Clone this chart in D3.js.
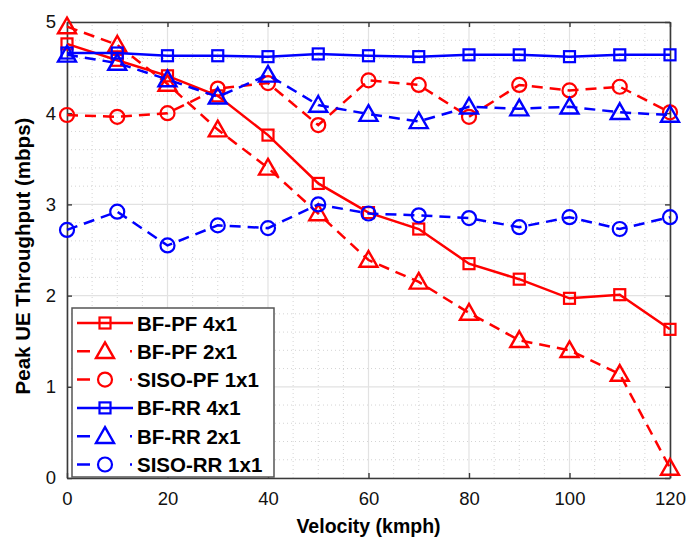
<!DOCTYPE html>
<html>
<head>
<meta charset="utf-8">
<script src="https://cdn.jsdelivr.net/npm/d3@7"></script>
<style>
body { margin: 0; background: #fff; }
text { font-family: "Liberation Sans", Arial, sans-serif; }
</style>
</head>
<body>
<div id="chart"></div>
<script>
// velocity values on the x axis
var velocity = [0, 10, 20, 30, 40, 50, 60, 70, 80, 90, 100, 110, 120];
// throughput (mbps)
var bfPf4 = [4.76, 4.58, 4.41, 4.19, 3.76, 3.23, 2.91, 2.73, 2.35, 2.18, 1.97, 2.01, 1.63];
var bfPf2 = [4.95, 4.75, 4.32, 3.82, 3.40, 2.90, 2.39, 2.15, 1.81, 1.51, 1.40, 1.14, 0.11];
var sisoPf1 = [3.98, 3.96, 4.00, 4.27, 4.33, 3.87, 4.36, 4.31, 3.96, 4.31, 4.25, 4.29, 4.01];
var bfRr4 = [4.66, 4.66, 4.63, 4.63, 4.62, 4.65, 4.63, 4.62, 4.64, 4.64, 4.62, 4.64, 4.64];
var bfRr2 = [4.64, 4.55, 4.37, 4.18, 4.42, 4.09, 3.99, 3.91, 4.07, 4.05, 4.07, 4.01, 3.98];
var sisoRr1 = [2.72, 2.92, 2.55, 2.77, 2.74, 3.00, 2.90, 2.88, 2.85, 2.75, 2.86, 2.73, 2.86];

var seriesNames = ["BF-PF 4x1", "BF-PF 2x1", "SISO-PF 1x1", "BF-RR 4x1", "BF-RR 2x1", "SISO-RR 1x1"];
var seriesValues = [bfPf4, bfPf2, sisoPf1, bfRr4, bfRr2, sisoRr1];
var seriesColors = ["#ff0000", "#ff0000", "#ff0000", "#0000ff", "#0000ff", "#0000ff"];
var seriesMarkers = ["square", "triangle", "circle", "square", "triangle", "circle"];
var seriesDashed = [false, true, true, false, true, true];

var xTicks = [0, 20, 40, 60, 80, 100, 120];
var yTicks = [0, 1, 2, 3, 4, 5];

var width = 688, height = 540;
var margin = {left: 67, right: 18, top: 22, bottom: 62};

var svg = d3.select("#chart").append("svg")
	.attr("width", width)
	.attr("height", height);

var x = d3.scaleLinear().domain([0, 120]).range([margin.left, width - margin.right]);
var y = d3.scaleLinear().domain([0, 5]).range([height - margin.bottom, margin.top]);

// minor grid (dotted)
var minorX = d3.range(5, 120, 5).filter(function(d) { return d % 20 !== 0; });
var minorY = d3.range(0.2, 5, 0.2).filter(function(d) { return Math.abs(d - Math.round(d)) > 0.01; });
svg.append("g").selectAll("line").data(minorX).enter().append("line")
	.attr("x1", function(d) { return x(d); }).attr("x2", function(d) { return x(d); })
	.attr("y1", y(0)).attr("y2", y(5))
	.attr("stroke", "#d4d4d4").attr("stroke-width", 1).attr("stroke-dasharray", "1,3");
svg.append("g").selectAll("line").data(minorY).enter().append("line")
	.attr("x1", x(0)).attr("x2", x(120))
	.attr("y1", function(d) { return y(d); }).attr("y2", function(d) { return y(d); })
	.attr("stroke", "#d4d4d4").attr("stroke-width", 1).attr("stroke-dasharray", "1,3");

// major grid
svg.append("g").selectAll("line").data(xTicks).enter().append("line")
	.attr("x1", function(d) { return x(d); }).attr("x2", function(d) { return x(d); })
	.attr("y1", y(0)).attr("y2", y(5))
	.attr("stroke", "#e2e2e2").attr("stroke-width", 1.2);
svg.append("g").selectAll("line").data(yTicks).enter().append("line")
	.attr("x1", x(0)).attr("x2", x(120))
	.attr("y1", function(d) { return y(d); }).attr("y2", function(d) { return y(d); })
	.attr("stroke", "#e2e2e2").attr("stroke-width", 1.2);

// axes with inward ticks
var xAxis = svg.append("g").attr("transform", "translate(0," + y(0) + ")")
	.call(d3.axisBottom(x).tickValues(xTicks).tickSizeInner(-5).tickSizeOuter(0).tickPadding(14).tickFormat(d3.format("d")));
var yAxis = svg.append("g").attr("transform", "translate(" + x(0) + ",0)")
	.call(d3.axisLeft(y).tickValues(yTicks).tickSizeInner(-5).tickSizeOuter(0).tickPadding(11).tickFormat(d3.format("d")));
var xTop = svg.append("g").attr("transform", "translate(0," + y(5) + ")")
	.call(d3.axisTop(x).tickValues(xTicks).tickSizeInner(-5).tickSizeOuter(0).tickFormat(""));
var yRight = svg.append("g").attr("transform", "translate(" + x(120) + ",0)")
	.call(d3.axisRight(y).tickValues(yTicks).tickSizeInner(-5).tickSizeOuter(0).tickFormat(""));

[xAxis, yAxis, xTop, yRight].forEach(function(a) {
	a.select(".domain").attr("stroke", "#3a3a3a").attr("stroke-width", 1.6);
	a.selectAll(".tick line").attr("stroke", "#3a3a3a").attr("stroke-width", 1.4);
	a.selectAll(".tick text").attr("font-size", 18.5).attr("fill", "#111")
		.style("font-family", "'Liberation Sans', Arial, sans-serif");
});

// axis titles
svg.append("text")
	.attr("x", (x(0) + x(120)) / 2).attr("y", 533)
	.attr("text-anchor", "middle")
	.attr("font-size", 19.5).attr("font-weight", "bold")
	.text("Velocity (kmph)");
svg.append("text")
	.attr("transform", "translate(30,256) rotate(-90)")
	.attr("text-anchor", "middle")
	.attr("font-size", 20.5).attr("font-weight", "bold")
	.text("Peak UE Throughput (mbps)");

function drawMarker(g, type, cx, cy, color) {
	if (type === "square") {
		g.append("rect").attr("x", cx - 5.5).attr("y", cy - 5.5)
			.attr("width", 11).attr("height", 11)
			.attr("fill", "none").attr("stroke", color).attr("stroke-width", 2.2);
	} else if (type === "triangle") {
		var s = 9;
		g.append("path")
			.attr("d", "M" + cx + "," + (cy - s) + "L" + (cx + s) + "," + (cy + s * 0.75) + "L" + (cx - s) + "," + (cy + s * 0.75) + "Z")
			.attr("fill", "none").attr("stroke", color).attr("stroke-width", 2.4);
	} else {
		g.append("circle").attr("cx", cx).attr("cy", cy).attr("r", 7)
			.attr("fill", "none").attr("stroke", color).attr("stroke-width", 2.2);
	}
}

var line = d3.line()
	.x(function(d, i) { return x(velocity[i]); })
	.y(function(d) { return y(d); });

seriesValues.forEach(function(vals, k) {
	var g = svg.append("g");
	g.append("path")
		.datum(vals)
		.attr("d", line)
		.attr("fill", "none")
		.attr("stroke", seriesColors[k])
		.attr("stroke-width", 2.5)
		.attr("stroke-dasharray", seriesDashed[k] ? "11,7" : null);
	vals.forEach(function(v, i) {
		drawMarker(g, seriesMarkers[k], x(velocity[i]), y(v), seriesColors[k]);
	});
});

// legend
var legend = svg.append("g");
legend.append("rect")
	.attr("x", 72).attr("y", 308).attr("width", 202).attr("height", 169)
	.attr("fill", "#fff").attr("stroke", "#555").attr("stroke-width", 1.5);
seriesNames.forEach(function(name, k) {
	var ly = 323 + k * 28.3;
	legend.append("line")
		.attr("x1", 77).attr("x2", 133).attr("y1", ly).attr("y2", ly)
		.attr("stroke", seriesColors[k]).attr("stroke-width", 2.5)
		.attr("stroke-dasharray", seriesDashed[k] ? "13,40,2,20" : null);
	drawMarker(legend, seriesMarkers[k], 105, ly, seriesColors[k]);
	legend.append("text")
		.attr("x", 137).attr("y", ly + 7.5)
		.attr("font-size", 20.5).attr("font-weight", "bold")
		.text(name);
});
</script>
</body>
</html>
